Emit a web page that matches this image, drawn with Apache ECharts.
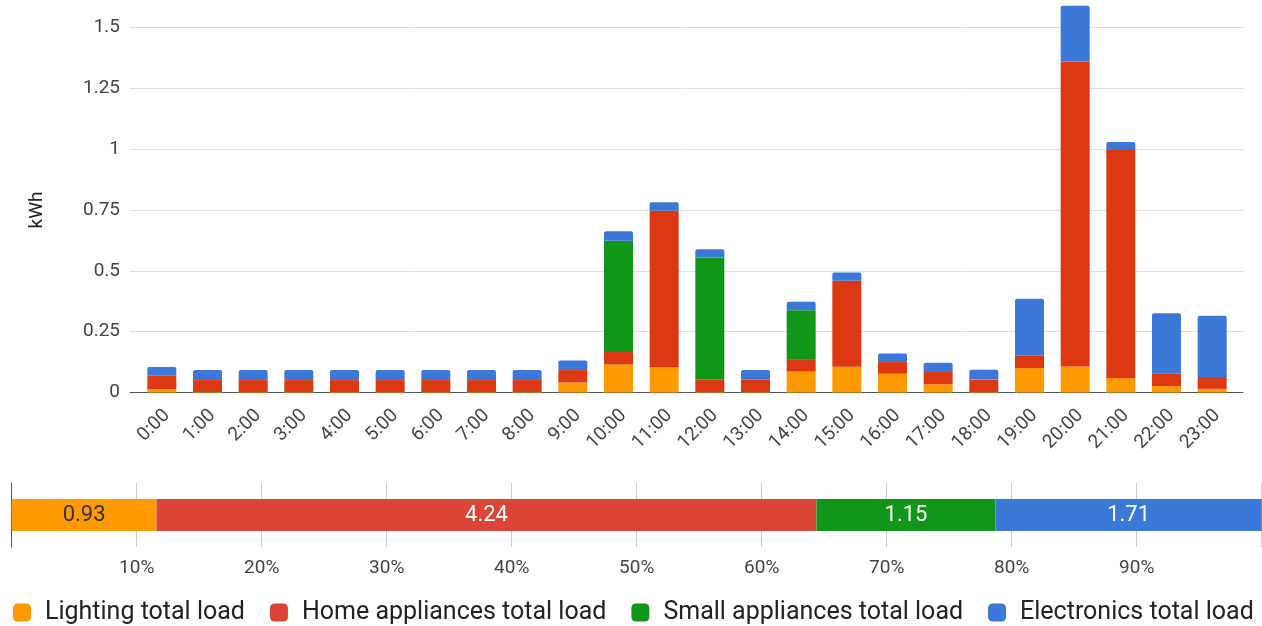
<!DOCTYPE html>
<html>
<head>
<meta charset="utf-8">
<title>Hourly load by category</title>
<script src="https://cdn.jsdelivr.net/npm/echarts@6/dist/echarts.min.js"></script>
<style>
  html, body { margin: 0; padding: 0; background: #fff; }
  #chart { width: 1262px; height: 626px; }
</style>
</head>
<body>
<div id="chart"></div>
<script>
// ---- data -------------------------------------------------------------
const hours = ['0:00','1:00','2:00','3:00','4:00','5:00','6:00','7:00','8:00','9:00','10:00','11:00',
               '12:00','13:00','14:00','15:00','16:00','17:00','18:00','19:00','20:00','21:00','22:00','23:00'];

// kWh per hour for each load category
const lighting    = [0.014,0.002,0.002,0.002,0.002,0.002,0.002,0.002,0.002,0.041,0.115,0.105,
                     0.002,0.002,0.086,0.106,0.077,0.034,0.002,0.100,0.107,0.059,0.026,0.015];
const home        = [0.056,0.049,0.049,0.049,0.049,0.049,0.049,0.049,0.049,0.051,0.056,0.642,
                     0.050,0.050,0.051,0.353,0.048,0.050,0.051,0.051,1.253,0.937,0.051,0.049];
const small       = [0,0,0,0,0,0,0,0,0,0,0.452,0,
                     0.503,0,0.201,0,0,0,0,0,0,0,0,0];
const electronics = [0.035,0.041,0.041,0.041,0.041,0.041,0.041,0.041,0.041,0.039,0.040,0.035,
                     0.034,0.040,0.035,0.034,0.035,0.038,0.040,0.234,0.229,0.033,0.249,0.251];

// daily totals per category (kWh)
const categoryNames = ['Lighting total load','Home appliances total load','Small appliances total load','Electronics total load'];
const dailyTotals   = [0.93, 4.24, 1.15, 1.71];

// y-axis ticks of the hourly chart
const yTickMax = 1.5;
const yTickStep = 0.25;

// ---- styling ------------------------------------------------------------
const FONT = 'Roboto, "Noto Sans", sans-serif';
const hourlyColors = ['#ff9900', '#dc3912', '#109618', '#3c78d8'];
const totalColors  = ['#ff9900', '#db4437', '#109618', '#3c78d8'];

const BASE_Y = 392.5;        // pixel row of 0 kWh
const PX_PER_KWH = 243.4;    // vertical scale of the hourly chart
const BAR_TOP_KWH = 1.6;     // headroom so the tallest stack is not clipped

const grandTotal = Math.round(dailyTotals.reduce((a, b) => a + b, 0) * 100) / 100;

const chart = echarts.init(document.getElementById('chart'), null, { renderer: 'canvas' });

const hourlySeries = [lighting, home, small, electronics].map((values, i) => ({
  name: categoryNames[i],
  type: 'bar',
  xAxisIndex: 1,
  yAxisIndex: 1,
  stack: 'hour',
  barWidth: 29,
  data: values,
  itemStyle: {
    color: hourlyColors[i],
    borderRadius: i === 3 ? [2, 2, 0, 0] : 0
  },
  emphasis: { disabled: true }
}));

const totalSeries = dailyTotals.map((v, i) => ({
  name: categoryNames[i],
  type: 'bar',
  xAxisIndex: 3,
  yAxisIndex: 3,
  stack: 'total',
  barWidth: 32,
  data: [v],
  itemStyle: { color: totalColors[i] },
  label: {
    show: true,
    position: 'inside',
    formatter: p => p.value.toFixed(2),
    fontFamily: FONT,
    fontSize: 22,
    color: i === 0 ? '#333' : '#fff'
  },
  emphasis: { disabled: true }
}));

chart.setOption({
  animation: false,
  textStyle: { fontFamily: FONT },
  grid: [
    // gridlines, y labels and baseline of the hourly chart
    { left: 130, right: 19, top: BASE_Y - yTickMax * PX_PER_KWH, height: yTickMax * PX_PER_KWH, outerBoundsMode: 'none' },
    // hourly stacked bars
    { left: 139, right: 27, top: BASE_Y - BAR_TOP_KWH * PX_PER_KWH, height: BAR_TOP_KWH * PX_PER_KWH, outerBoundsMode: 'none' },
    // slanted hour labels
    { left: 144, right: 22, top: BASE_Y - BAR_TOP_KWH * PX_PER_KWH, height: BAR_TOP_KWH * PX_PER_KWH, outerBoundsMode: 'none' },
    // 100% stacked daily totals
    { left: 11.7, right: 0.3, top: 483, height: 64, outerBoundsMode: 'none' }
  ],
  xAxis: [
    { gridIndex: 0, type: 'value', min: 0, max: 1,
      axisLine: { show: true, lineStyle: { color: '#555', width: 1 } },
      axisTick: { show: false }, axisLabel: { show: false }, splitLine: { show: false } },
    { gridIndex: 1, type: 'category', data: hours,
      axisLine: { show: false }, axisTick: { show: false }, axisLabel: { show: false } },
    { gridIndex: 2, type: 'category', data: hours,
      axisLine: { show: false }, axisTick: { show: false },
      axisLabel: { rotate: 45, margin: 20, fontSize: 19, color: '#444', fontFamily: FONT, interval: 0 } },
    { gridIndex: 3, type: 'value', min: 0, max: grandTotal, interval: grandTotal / 10,
      axisLine: { show: false }, axisTick: { show: false },
      splitLine: { show: true, lineStyle: { color: '#cccccc', width: 1 } },
      axisLabel: {
        margin: 12, fontSize: 19, color: '#444', fontFamily: FONT,
        formatter: v => {
          const pct = Math.round(v / grandTotal * 100);
          return (pct <= 0 || pct >= 100) ? '' : pct + '%';
        }
      } }
  ],
  yAxis: [
    { gridIndex: 0, type: 'value', min: 0, max: yTickMax, interval: yTickStep,
      name: 'kWh', nameLocation: 'middle', nameRotate: 90, nameGap: 83,
      nameTextStyle: { fontSize: 19, color: '#222', fontFamily: FONT },
      axisLine: { show: false }, axisTick: { show: false },
      axisLabel: { fontSize: 19, color: '#444', margin: 10, fontFamily: FONT },
      splitLine: { show: true, lineStyle: { color: '#e0e0e0', width: 1 } } },
    { gridIndex: 1, type: 'value', min: 0, max: BAR_TOP_KWH, show: false, splitLine: { show: false } },
    { gridIndex: 2, type: 'value', min: 0, max: BAR_TOP_KWH, show: false, splitLine: { show: false } },
    { gridIndex: 3, type: 'category', data: ['Total'],
      axisLine: { show: true, lineStyle: { color: '#555', width: 1 } },
      axisTick: { show: false }, axisLabel: { show: false } }
  ],
  legend: {
    left: 13,
    top: 600,
    width: 1262,
    padding: 0,
    itemWidth: 18,
    itemHeight: 18,
    itemGap: 25,
    icon: 'roundRect',
    selectedMode: false,
    data: categoryNames,
    textStyle: { fontSize: 25, color: '#222', fontFamily: FONT, padding: [0, 0, 0, 9] }
  },
  series: [...totalSeries, ...hourlySeries]
});
</script>
</body>
</html>
